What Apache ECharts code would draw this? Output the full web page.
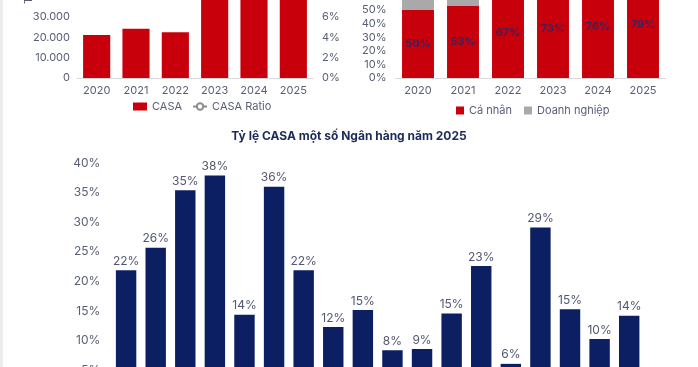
<!DOCTYPE html>
<html><head><meta charset="utf-8">
<script src="https://cdn.jsdelivr.net/npm/echarts@6/dist/echarts.min.js"></script>
<style>
html,body{margin:0;padding:0;width:698px;height:367px;overflow:hidden;background:#fff;}
.c{position:absolute;}
#edge{position:absolute;left:0;top:0;width:3px;height:367px;background:#ebebeb;}
</style></head><body>
<div id="c1" class="c" style="left:0;top:-100px;width:349px;height:230px;"></div>
<div id="c2" class="c" style="left:350px;top:-100px;width:348px;height:230px;"></div>
<div id="c3" class="c" style="left:0;top:120px;width:698px;height:360px;"></div>
<div id="edge"></div>
<script>
// ---- Data ----
const years = ['2020','2021','2022','2023','2024','2025'];
const casaValues = [21200, 24300, 22500, 46000, 51000, 55000];   // top 3 bars cut off in reference (estimated)
const casaRatio = [9.2, 9.8, 9.4, 10.5, 11.0, 11.6];             // line not visible in reference (estimated)
const caNhan = [50, 53, 67, 73, 76, 79];
const doanhNghiep = [50, 47, 33, 27, 24, 21];
const banks = ['ACB','BID','CTG','MBB','EIB','TCB','VCB','VIB','VPB','HDB','LPB','SHB','STB','SSB','TPB','OCB','MSB','NAB'];
const bankCasa = [21.9, 25.7, 35.4, 37.9, 14.4, 36.0, 21.9, 12.3, 15.2, 8.4, 8.6, 14.6, 22.6, 6.1, 29.1, 15.3, 10.3, 14.2];
const title3 = 'Tỷ lệ CASA một số Ngân hàng năm 2025';

const FONT = 'Inter, Roboto, sans-serif';
const AXC = '#585e76';
const RED = '#c8000c';
const NAVY = '#0c1f62';

// ---- Chart 1 ----
const ch1 = echarts.init(document.getElementById('c1'), null, {renderer:'canvas'});
ch1.setOption({
  animation:false,
  textStyle:{fontFamily:FONT},
  grid:{left:77,right:36,top:56.2,bottom:52},
  legend:{left:128,bottom:13,itemWidth:14,itemHeight:8,itemGap:10,
    textStyle:{color:AXC,fontSize:11,fontFamily:FONT},
    data:[{name:'CASA',icon:'rect'},{name:'CASA Ratio'}]},
  graphic:[{type:'text',x:29,y:104,rotation:Math.PI/2,
    style:{text:'Tỷ đồng',fill:AXC,fontSize:11,fontFamily:FONT,align:'left',verticalAlign:'middle'}}],
  xAxis:{type:'category',data:years,axisTick:{show:false},
    axisLine:{lineStyle:{color:'#d9d9d9'}},
    axisLabel:{color:AXC,fontSize:11,margin:7}},
  yAxis:[
    {type:'value',min:0,max:60000,interval:10000,splitLine:{show:false},
     axisLabel:{color:AXC,fontSize:11,margin:7,formatter:v=>v===0?'0':v.toLocaleString('de-DE')}},
    {type:'value',min:0,max:12,interval:2,splitLine:{show:false},
     axisLabel:{color:AXC,fontSize:11,margin:9,formatter:v=>v+'%'}}
  ],
  series:[
    {name:'CASA',type:'bar',data:casaValues,barCategoryGap:'31%',itemStyle:{color:RED}},
    {name:'CASA Ratio',type:'line',yAxisIndex:1,data:casaRatio,symbol:'emptyCircle',symbolSize:6,
     lineStyle:{color:'#8c8c8c',width:1.5},itemStyle:{color:'#8c8c8c'}}
  ]
});

// ---- Chart 2 ----
const ch2 = echarts.init(document.getElementById('c2'), null, {renderer:'canvas'});
ch2.setOption({
  animation:false,
  textStyle:{fontFamily:FONT},
  grid:{left:45.5,right:32.5,top:42,bottom:52},
  legend:{left:101,bottom:9,itemWidth:8,itemHeight:8,itemGap:12,icon:'rect',
    textStyle:{color:AXC,fontSize:11,fontFamily:FONT}},
  xAxis:{type:'category',data:years,axisTick:{show:false},
    axisLine:{lineStyle:{color:'#d9d9d9'}},
    axisLabel:{color:AXC,fontSize:11,margin:7}},
  yAxis:{type:'value',min:0,max:100,interval:10,splitLine:{show:false},
    axisLabel:{color:AXC,fontSize:11,margin:9,formatter:v=>v+'%'}},
  series:[
    {name:'Cá nhân',type:'bar',stack:'s',data:caNhan,barCategoryGap:'29%',itemStyle:{color:RED},
     label:{show:true,position:'inside',color:'#3e2258',fontSize:11,fontWeight:'bold',formatter:p=>p.value+'%'}},
    {name:'Doanh nghiệp',type:'bar',stack:'s',data:doanhNghiep,itemStyle:{color:'#a9a9a9'},
     label:{show:true,position:'inside',color:'#4a4a5e',fontSize:11,formatter:p=>p.value+'%'}}
  ]
});

// ---- Chart 3 ----
const ch3 = echarts.init(document.getElementById('c3'), null, {renderer:'canvas'});
ch3.setOption({
  animation:false,
  textStyle:{fontFamily:FONT},
  title:{text:title3,left:'center',top:5,
    textStyle:{color:'#1c2a58',fontSize:12,fontWeight:'bold',fontFamily:FONT}},
  grid:{left:111.3,right:54,top:43,bottom:80},
  xAxis:{type:'category',data:banks,axisTick:{show:false},
    axisLine:{lineStyle:{color:'#d9d9d9'}},
    axisLabel:{color:AXC,fontSize:11}},
  yAxis:{type:'value',min:0,max:40,interval:5,splitLine:{show:false},
    axisLabel:{color:AXC,fontSize:12,margin:11,formatter:v=>v+'%'}},
  series:[
    {type:'bar',data:bankCasa,barCategoryGap:'31%',itemStyle:{color:NAVY},
     label:{show:true,position:'top',distance:3,color:'#525870',fontSize:12,
       formatter:p=>Math.round(p.value)+'%'}}
  ]
});
</script>
</body></html>
